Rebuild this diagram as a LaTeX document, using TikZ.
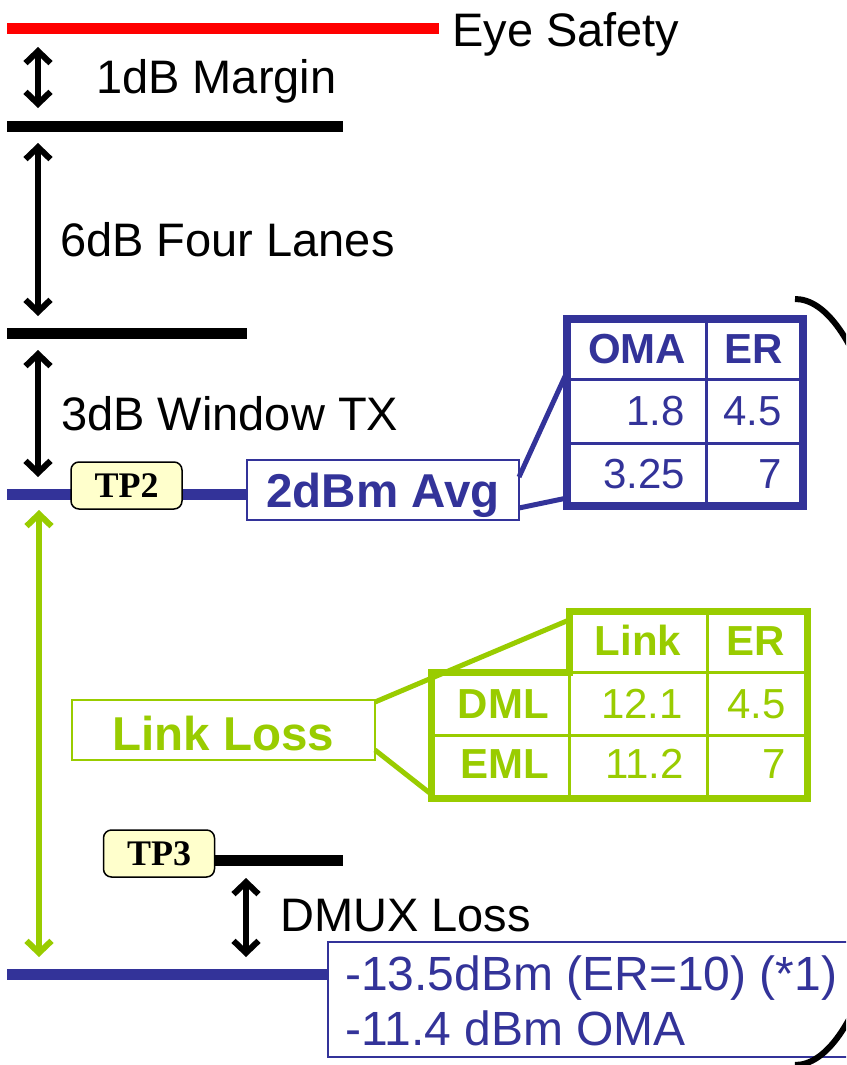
\documentclass[tikz,border=0pt]{standalone}
\usepackage{fontspec}
\setmainfont{Liberation Sans}
\newfontfamily\tpfont{Liberation Serif}
\usetikzlibrary{arrows.meta,positioning,calc,backgrounds}
\definecolor{lvblue}{RGB}{51,51,153}
\definecolor{lvgreen}{RGB}{153,204,0}
\definecolor{lvred}{RGB}{255,0,0}
\definecolor{lvyellow}{RGB}{255,255,204}

\begin{document}
\begin{tikzpicture}[
  x=1pt, y=-1pt,
  level/.style={line width=11pt},
  gap/.style={{Straight Barb[length=12pt,width=25pt]}-{Straight Barb[length=12pt,width=25pt]}, line width=6pt},
  lbl/.style={font=\fontsize{47}{56}\selectfont, inner sep=0pt, anchor=base west},
  tp/.style={draw=black, line width=1.5pt, fill=lvyellow, rounded corners=8pt, minimum width=111pt, minimum height=47pt, inner sep=0pt, font=\tpfont\bfseries\fontsize{36}{42}\selectfont},
  tag/.style={line width=2pt, fill=white, outer sep=0pt, inner sep=0pt, text depth=0pt, font=\bfseries\fontsize{47.5}{56}\selectfont},
  tabtxt/.style={font=\fontsize{42}{50}\selectfont, inner sep=0pt},
  hd/.style={tabtxt, font=\bfseries\fontsize{42}{50}\selectfont, anchor=base},
  num/.style={tabtxt, anchor=base east},
  frame/.style={outer sep=0pt, inner sep=0pt}
]
\useasboundingbox (0,0) rectangle (846,1065);
\clip (0,0) rectangle (846,1065);

% Power levels
\draw[level, lvred] (7,29) -- (439,29);
\draw[level] (7,126) -- (343,126);
\draw[level] (7,333.5) -- (247,333.5);

\node[lbl] (eye) at (452,47) {Eye Safety};
\node[lbl] (margin) at (96,93) {1dB Margin};
\node[lbl] (lanes) at (60,256) {6dB Four Lanes};
\node[lbl] (window) at (61,430) {3dB Window TX};

% Level arrows
\coordinate (m1) at (38,47);   \coordinate (m2) at (38,108);
\coordinate (f1) at (38,143);  \coordinate (f2) at (38,316);
\coordinate (w1) at (38,350);  \coordinate (w2) at (38,477);
\draw[gap] (m1) -- (m2);
\draw[gap] (f1) -- (f2);
\draw[gap] (w1) -- (w2);

% TP2
\node[tp] (tp2) at (126.5,485.5) {TP2};
\node[tag, draw=lvblue, text=lvblue, minimum width=272pt, minimum height=60pt, text height=34pt] (avg) at (383,490) {2dBm Avg};
\coordinate (tx) at (7,494);
\begin{scope}[on background layer]
  \draw[level, lvblue] (tx) -- (tx -| avg.west);
\end{scope}

% OMA / ER table
\node[frame, draw=lvblue, line width=8pt, minimum width=236pt, minimum height=187pt] (omatab) at (685,412.5) {};
\coordinate (omacol) at ([xshift=139pt]omatab.north west);
\coordinate (omar1) at ([yshift=-60pt]omatab.north west);
\coordinate (omar2) at ([yshift=-124pt]omatab.north west);
\draw[lvblue, line width=3pt] (omacol) -- (omacol |- omatab.south);
\draw[lvblue, line width=3pt] (omar1) -- (omar1 -| omatab.east);
\draw[lvblue, line width=3pt] (omar2) -- (omar2 -| omatab.east);
\node[hd, text=lvblue] (omahd) at (637,363) {OMA};
\node[hd, text=lvblue] (erhd) at (754,363) {ER};
\node[num, text=lvblue] (oma1) at (685,425) {1.8};
\node[num, text=lvblue] (er1) at (782,425) {4.5};
\node[num, text=lvblue] (oma2) at (685,488) {3.25};
\node[num, text=lvblue] (er2) at (782,488) {7};
\draw[lvblue, line width=5pt] ([yshift=-17pt]avg.north east) -- ([yshift=-53pt]omatab.north west);
\draw[lvblue, line width=5pt] ([yshift=12pt]avg.south east) -- ([yshift=8pt]omatab.south west);

% Link loss
\draw[gap, lvgreen] (39,510) coordinate (l1) -- (39,957) coordinate (l2);
\node[tag, draw=lvgreen, text=lvgreen, minimum width=303pt, minimum height=60pt, text height=40pt] (loss) at (223.5,730) {Link Loss};

% Link / ER table
\node[frame, minimum width=238pt, minimum height=61pt] (lnkhead) at (688,641.5) {};
\node[frame, minimum width=376pt, minimum height=126pt] (lnkbody) at (619,735) {};
\draw[lvgreen, line width=7pt] (lnkhead.north west) -- (lnkhead.north east) -- (lnkbody.south east)
  -- (lnkbody.south west) -- (lnkbody.north west) -- (lnkhead.south west) -- cycle;
\coordinate (lnkcol) at ([xshift=138pt]lnkhead.north west);
\draw[lvgreen, line width=3pt] (lnkhead.south west) -- (lnkhead.south east);
\draw[lvgreen, line width=3pt] (lnkbody.west) -- (lnkbody.east);
\draw[lvgreen, line width=3pt] (lnkhead.south west) -- (lnkhead.south west |- lnkbody.south);
\draw[lvgreen, line width=3pt] (lnkcol) -- (lnkcol |- lnkbody.south);
\node[hd, text=lvgreen] (lnkhd) at (638,655) {Link};
\node[hd, text=lvgreen] (lnkerhd) at (756,655) {ER};
\node[hd, anchor=base east, text=lvgreen] (dml) at (549,718) {DML};
\node[hd, anchor=base east, text=lvgreen] (eml) at (549,778) {EML};
\node[num, text=lvgreen] (dmlloss) at (683,718) {12.1};
\node[num, text=lvgreen] (dmler) at (786,718) {4.5};
\node[num, text=lvgreen] (emlloss) at (684,778) {11.2};
\node[num, text=lvgreen] (emler) at (786,778) {7};
\draw[lvgreen, line width=5pt] ([yshift=-2pt]loss.north east) -- ([yshift=-9pt]lnkhead.north west);
\draw[lvgreen, line width=5pt] ([yshift=10pt]loss.south east) -- ([yshift=4pt]lnkbody.south west);

% TP3 and DMUX
\node[tp] (tp3) at (159,853.5) {TP3};
\coordinate (tp3end) at (343,860);
\draw[level] (tp3end -| tp3.east) -- (tp3end);
\coordinate (d1) at (246,878); \coordinate (d2) at (246,957);
\draw[gap] (d1) -- (d2);
\node[lbl] (dmux) at (280,931) {DMUX Loss};

% Receiver sensitivity
\node[frame, draw=lvblue, line width=2pt, fill=white, anchor=north west, minimum width=540pt, minimum height=115pt] (rxbox) at (328,942) {};
\coordinate (rx) at (7,974);
\draw[level, lvblue] (rx) -- (rx -| rxbox.west);
\node[lbl, text=lvblue, font=\fontsize{48}{56}\selectfont] (rxavg) at (345,990) {-13.5dBm (ER=10) (*1)};
\node[lbl, text=lvblue, font=\fontsize{48}{56}\selectfont] (rxoma) at (345,1045) {-11.4 dBm OMA};

% Bracket on the right
\draw[line width=6pt] (795,299) arc[start angle=90, end angle=-90, x radius=114pt, y radius=383pt];

\end{tikzpicture}
\end{document}
